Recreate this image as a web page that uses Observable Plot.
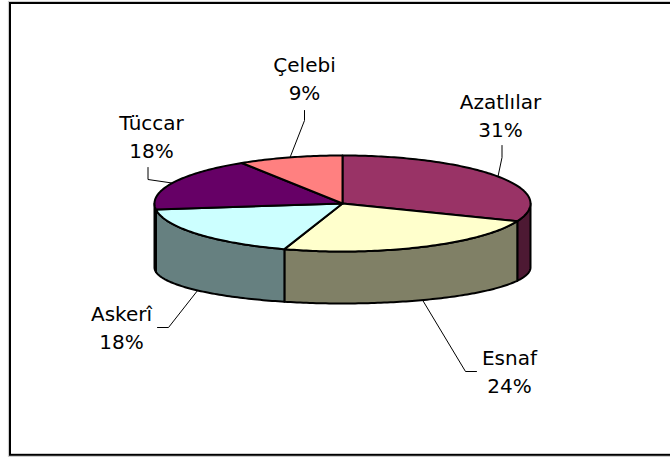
<!DOCTYPE html>
<html><head><meta charset="utf-8">
<script src="https://cdn.jsdelivr.net/npm/d3@7"></script>
<script src="https://cdn.jsdelivr.net/npm/@observablehq/plot@0.6"></script>
<style>body{margin:0;background:#fff}</style>
</head><body><div id="chart"></div>
<script>
// ---- data ----
const categories = ["Azatlılar", "Esnaf", "Askerî", "Tüccar", "Çelebi"];
const values = [31, 24, 18, 18, 9];
const topColors = ["#993366", "#FFFFCC", "#CCFFFF", "#660066", "#FF8080"];
const sideColors = ["#4D1933", "#808066", "#668080", "#330033", "#804040"];

// ---- layout (pixels) ----
const W = 670, H = 459;
const pie = {cx: 342, cy: 203, rx: 188, ry: 48, cyB: 267, ryB: 36};
// label anchor = last-line baseline; leader = start + elbow near the label
const labelLayout = {
  "Azatlılar": {x: 500, y: 136, lead: [[501.5, 145], [501.5, 157]]},
  "Esnaf":     {x: 509, y: 392, lead: [[476, 371], [465, 371]]},
  "Askerî":    {x: 121, y: 348, lead: [[157, 327], [168, 327]]},
  "Tüccar":    {x: 151, y: 157, lead: [[147.5, 167], [147.5, 179]]},
  "Çelebi":    {x: 304, y: 99,  lead: [[304, 110], [304, 120]]}
};

const total = d3.sum(values);
const rad = Math.PI / 180;
const topPt = a => [pie.cx + pie.rx * Math.sin(a * rad), pie.cy - pie.ry * Math.cos(a * rad)];
const botPt = a => [pie.cx + pie.rx * Math.sin(a * rad), pie.cyB - pie.ryB * Math.cos(a * rad)];
function arc(a0, a1, f) {
  const n = Math.max(2, Math.ceil(Math.abs(a1 - a0)));
  return d3.range(n + 1).map(i => f(a0 + (a1 - a0) * i / n));
}

let acc = 0;
const slices = categories.map((c, i) => {
  const a0 = acc / total * 360;
  acc += values[i];
  const a1 = acc / total * 360;
  return {c, v: values[i], a0, a1, mid: (a0 + a1) / 2, top: topColors[i], side: sideColors[i]};
});

const marks = [
  Plot.frame({stroke: "#c8c8c8", strokeWidth: 1, inset: -1.6, insetRight: -8}),
  Plot.frame({stroke: "black", strokeWidth: 2, insetRight: -6})
];

// sides (front half, 90°..270°)
for (const s of slices) {
  const s0 = Math.max(s.a0, 90), s1 = Math.min(s.a1, 270);
  if (s1 <= s0) continue;
  const pts = [...arc(s0, s1, topPt), ...arc(s1, s0, botPt)];
  pts.push(pts[0]);
  marks.push(Plot.line(pts, {x: d => d[0], y: d => d[1], fill: s.side, stroke: "black", strokeWidth: 2, strokeLinejoin: "round"}));
}
// top faces
for (const s of slices) {
  const c = [pie.cx, pie.cy];
  const pts = [c, ...arc(s.a0, s.a1, topPt), c];
  marks.push(Plot.line(pts, {x: d => d[0], y: d => d[1], fill: s.top, stroke: "black", strokeWidth: 2, strokeLinejoin: "round"}));
}
// leader lines
for (const s of slices) {
  const L = labelLayout[s.c];
  const end = (s.mid > 90 && s.mid < 270) ? botPt(s.mid) : topPt(s.mid);
  marks.push(Plot.line([...L.lead, end], {x: d => d[0], y: d => d[1], stroke: "black", strokeWidth: 1}));
}
// labels
marks.push(Plot.text(slices, {
  x: d => labelLayout[d.c].x,
  y: d => labelLayout[d.c].y,
  text: d => `${d.c}\n${Math.round(d.v / total * 100)}%`,
  lineAnchor: "bottom",
  lineHeight: 1.375,
  textAnchor: "middle",
  fontFamily: "DejaVu Sans",
  fontSize: 20,
  fill: "black"
}));

const chart = Plot.plot({
  width: W, height: H,
  marginLeft: 9.5, marginTop: 2.5, marginBottom: 4.7, marginRight: 0,
  x: {domain: [0, W], range: [0, W], axis: null},
  y: {domain: [0, H], range: [0, H], axis: null},
  style: {background: "white", overflow: "hidden"},
  marks
});
document.getElementById("chart").append(chart);
</script>
</body></html>
